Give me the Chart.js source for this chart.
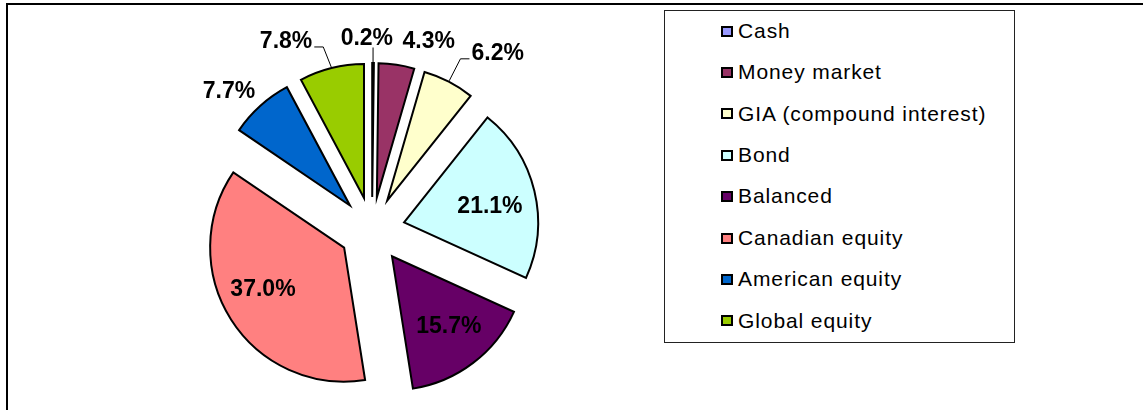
<!DOCTYPE html>
<html>
<head>
<meta charset="utf-8">
<script src="https://cdn.jsdelivr.net/npm/chart.js@4.4.1/dist/chart.umd.min.js"></script>
<style>
  html, body { margin: 0; padding: 0; background: #fff; overflow: hidden; }
  body { width: 1143px; height: 410px; position: relative; font-family: "Liberation Sans", Arial, sans-serif; }
  #frame { position: absolute; left: 6px; top: 3px; width: 1200px; height: 500px; border: 2px solid #000; box-sizing: border-box; }
  #wrap { position: absolute; left: 0; top: 0; width: 660px; height: 410px; }
  #legend { position: absolute; left: 664px; top: 10px; width: 351px; height: 333px; border: 1px solid #222; box-sizing: border-box; background: #fff; }
  .item { position: absolute; left: 56px; height: 24px; line-height: 24px; font-size: 21px; letter-spacing: 0.9px; color: #000; white-space: nowrap; }
  .sw { display: inline-block; width: 8px; height: 7px; border: 2px solid #000; vertical-align: middle; margin-right: 5px; position: relative; top: -1px; }
</style>
</head>
<body>
<div id="frame"></div>
<div id="wrap"><canvas id="pie"></canvas></div>
<div id="legend"></div>
<script>
// 자산 배분 데이터
const categories = ['Cash', 'Money market', 'GIA (compound interest)', 'Bond', 'Balanced', 'Canadian equity', 'American equity', 'Global equity'];
const shares = [0.2, 4.3, 6.2, 21.1, 15.7, 37.0, 7.7, 7.8];
const colors = ['#9999FF', '#993366', '#FFFFCC', '#CCFFFF', '#660066', '#FF8080', '#0066CC', '#99CC00'];

// 라벨 위치 (조각 중심각 기준 회전, 거리) 와 지시선 여부
const labelShift = [-2.3, 10.0, 9.6, 3.1, -1.5, 4.9, -4.9, -12.5];
const labelDist = [158.6, 163.9, 183.8, 87.3, 90.9, 91.5, 165.9, 174.4];
const leader = [true, false, true, false, false, false, false, true];
const EXPLODE = 33;

// 범례 (HTML)
const legendEl = document.getElementById('legend');
categories.forEach((name, i) => {
  const row = document.createElement('div');
  row.className = 'item';
  row.style.top = (7.7 + 41.4 * i) + 'px';
  const sw = document.createElement('span');
  sw.className = 'sw';
  sw.style.background = colors[i];
  row.appendChild(sw);
  row.appendChild(document.createTextNode(name));
  legendEl.appendChild(row);
});

const pieLabels = {
  id: 'pieLabels',
  // 모든 조각을 같은 거리만큼 바깥으로 밀어서 그림
  beforeDatasetDraw(chart, args) {
    const ctx = chart.ctx;
    args.meta.data.forEach(arc => {
      const mid = (arc.startAngle + arc.endAngle) / 2;
      ctx.save();
      ctx.translate(Math.cos(mid) * EXPLODE, Math.sin(mid) * EXPLODE);
      arc.draw(ctx);
      ctx.restore();
    });
    return false;
  },
  afterDatasetsDraw(chart) {
    const ctx = chart.ctx;
    const arcs = chart.getDatasetMeta(0).data;
    ctx.save();
    ctx.font = 'bold 23px "Liberation Sans", Arial, sans-serif';
    ctx.textAlign = 'center';
    ctx.textBaseline = 'middle';
    ctx.fillStyle = '#000';
    ctx.strokeStyle = '#000';
    ctx.lineWidth = 1;
    arcs.forEach((arc, i) => {
      const mid = (arc.startAngle + arc.endAngle) / 2;
      const cx = arc.x + Math.cos(mid) * EXPLODE;
      const cy = arc.y + Math.sin(mid) * EXPLODE;
      const a = mid + labelShift[i] * Math.PI / 180;
      const lx = cx + Math.cos(a) * labelDist[i];
      const ly = cy + Math.sin(a) * labelDist[i];
      const text = shares[i].toFixed(1) + '%';
      if (leader[i]) {
        const ox = cx + Math.cos(mid) * (arc.outerRadius + 1);
        const oy = cy + Math.sin(mid) * (arc.outerRadius + 1);
        const w = ctx.measureText(text).width;
        ctx.beginPath();
        ctx.moveTo(ox, oy);
        if (Math.abs(lx - ox) < w / 2) {
          ctx.lineTo(ox, ly + 9);
        } else {
          const side = lx > ox ? -1 : 1;
          const edge = lx + side * (w / 2 + 2);
          ctx.lineTo(edge + side * 9, ly + 5);
          ctx.lineTo(edge, ly + 5);
        }
        ctx.stroke();
      }
      ctx.fillText(text, lx, ly);
    });
    ctx.restore();
  }
};

new Chart(document.getElementById('pie'), {
  type: 'pie',
  data: {
    labels: categories,
    datasets: [{
      data: shares,
      backgroundColor: colors,
      borderColor: '#000',
      borderWidth: 2,
      borderJoinStyle: 'miter'
    }]
  },
  options: {
    responsive: true,
    maintainAspectRatio: false,
    animation: false,
    events: [],
    radius: 134,
    layout: { padding: { left: 84, top: 50, right: 0, bottom: 0 } },
    plugins: {
      legend: { display: false },
      tooltip: { enabled: false }
    }
  },
  plugins: [pieLabels]
});
</script>
</body>
</html>
